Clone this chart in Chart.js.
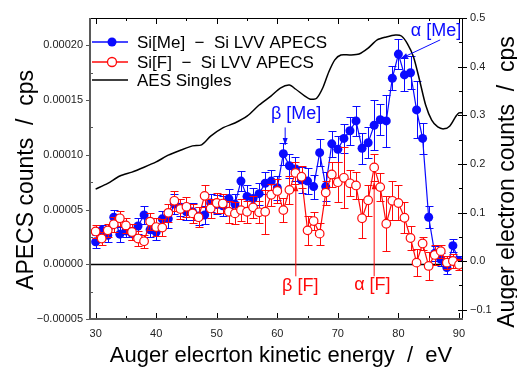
<!DOCTYPE html>
<html>
<head>
<meta charset="utf-8">
<script src="https://cdn.jsdelivr.net/npm/chart.js"></script>
<style>
html, body { margin: 0; padding: 0; background: #fff; }
#wrap { width: 517px; height: 369px; position: relative; }
</style>
</head>
<body>
<div id="wrap"><canvas id="myChart"></canvas></div>
<script>
// energies (eV) des points APECS
const energie = [30, 31, 32, 33, 34, 35, 36, 37, 38, 39, 40, 41, 42, 43, 44, 45, 46, 47, 48, 49,
  50, 51, 52, 53, 54, 55, 56, 57, 58, 59, 60, 61, 62, 63, 64, 65, 66, 67, 68, 69,
  70, 71, 72, 73, 74, 75, 76, 77, 78, 79, 80, 81, 82, 83, 84, 85, 86, 87, 88, 89, 90]

// Si[Me] - Si LVV APECS (cps)
const siMe = [2.05e-5, 3.1e-5, 2.65e-5, 4.3e-5, 2.75e-5, 3.05e-5, 2.8e-5, 3.5e-5, 4.5e-5, 3.15e-5,
  2.95e-5, 4.15e-5, 4.15e-5, 5.5e-5, 5.2e-5, 4.8e-5, 4.8e-5, 4.4e-5, 4.5e-5, 5.6e-5,
  5.45e-5, 5.35e-5, 6.0e-5, 5.5e-5, 7.6e-5, 6.2e-5, 6.0e-5, 6.45e-5, 7.4e-5, 7.6e-5,
  7.0e-5, 10.1e-5, 9.0e-5, 8.7e-5, 7.7e-5, 7.6e-5, 7.1e-5, 10.2e-5, 7.1e-5, 11.0e-5,
  10.5e-5, 11.5e-5, 12.2e-5, 13.1e-5, 10.6e-5, 11.1e-5, 12.7e-5, 13.2e-5, 13.1e-5, 17.0e-5,
  19.2e-5, 17.3e-5, 17.5e-5, 14.1e-5, 11.5e-5, 4.3e-5, 1.0e-5, 0.45e-5, -0.3e-5, 1.7e-5, 0.3e-5]
const siMeErr = [0.6e-5, 0.5e-5, 0.6e-5, 0.7e-5, 0.7e-5, 0.6e-5, 0.6e-5, 0.7e-5, 0.8e-5, 0.7e-5,
  0.7e-5, 0.7e-5, 0.8e-5, 0.9e-5, 0.8e-5, 0.8e-5, 0.8e-5, 0.8e-5, 0.8e-5, 0.8e-5,
  0.9e-5, 0.9e-5, 0.9e-5, 0.9e-5, 0.9e-5, 1.0e-5, 1.0e-5, 1.0e-5, 1.0e-5, 1.0e-5,
  1.1e-5, 1.0e-5, 1.1e-5, 1.1e-5, 1.2e-5, 1.2e-5, 1.1e-5, 1.2e-5, 1.3e-5, 1.2e-5,
  1.2e-5, 1.3e-5, 1.3e-5, 1.4e-5, 1.4e-5, 1.4e-5, 2.3e-5, 1.4e-5, 2.4e-5, 1.1e-5,
  1.4e-5, 1.5e-5, 1.5e-5, 2.6e-5, 1.4e-5, 1.0e-5, 0.7e-5, 0.6e-5, 0.6e-5, 0.6e-5, 0.5e-5]

// Si[F] - Si LVV APECS (cps)
const siF = [3.0e-5, 2.35e-5, 3.1e-5, 3.65e-5, 4.2e-5, 3.55e-5, 2.95e-5, 2.35e-5, 2.1e-5, 3.9e-5,
  3.4e-5, 3.35e-5, 4.7e-5, 5.8e-5, 5.05e-5, 5.25e-5, 4.65e-5, 4.3e-5, 6.25e-5, 5.1e-5,
  5.6e-5, 5.55e-5, 4.8e-5, 4.65e-5, 4.95e-5, 4.8e-5, 5.2e-5, 4.75e-5, 4.8e-5, 6.35e-5,
  6.7e-5, 4.95e-5, 6.8e-5, 8.35e-5, 8.0e-5, 3.1e-5, 3.95e-5, 2.8e-5, 6.55e-5, 8.2e-5,
  7.5e-5, 7.9e-5, 7.4e-5, 7.2e-5, 4.2e-5, 5.85e-5, 8.85e-5, 7.05e-5, 3.7e-5, 5.8e-5,
  5.6e-5, 4.25e-5, 2.4e-5, 0.15e-5, 1.9e-5, -0.15e-5, 0.85e-5, 1.2e-5, 0.15e-5, 0.3e-5, -0.05e-5]
const siFErr = [0.6e-5, 0.6e-5, 0.6e-5, 0.7e-5, 0.7e-5, 0.7e-5, 0.7e-5, 0.7e-5, 0.6e-5, 0.8e-5,
  0.8e-5, 0.8e-5, 0.8e-5, 0.9e-5, 0.9e-5, 0.9e-5, 0.9e-5, 0.9e-5, 1.0e-5, 0.9e-5,
  0.9e-5, 0.9e-5, 1.0e-5, 1.0e-5, 1.0e-5, 1.0e-5, 1.0e-5, 1.0e-5, 2.0e-5, 1.0e-5,
  1.1e-5, 1.1e-5, 1.3e-5, 1.0e-5, 1.0e-5, 1.3e-5, 0.8e-5, 1.0e-5, 1.1e-5, 1.1e-5,
  1.8e-5, 2.8e-5, 1.2e-5, 1.2e-5, 1.8e-5, 1.4e-5, 1.2e-5, 1.3e-5, 2.5e-5, 1.8e-5,
  1.6e-5, 1.4e-5, 1.1e-5, 1.2e-5, 0.6e-5, 1.3e-5, 0.9e-5, 0.6e-5, 0.6e-5, 0.6e-5, 0.5e-5]

// AES Singles (axe de droite)
const aesEnergie = [30, 32, 34, 36, 38, 40, 42, 44, 46, 47.5, 49, 51, 53, 55, 57, 59, 60.5, 62, 63, 64.5,
  65.5, 66.5, 67.5, 68.5, 69.5, 70.5, 72, 73.5, 75, 76.5, 78, 79.5, 80.5, 81.5, 82.5, 83.5,
  84.5, 85.5, 86.5, 87.5, 88.5, 89.5, 90, 90.7]
const aesSingles = [0.148, 0.160, 0.175, 0.183, 0.193, 0.204, 0.218, 0.228, 0.237, 0.239, 0.257, 0.274, 0.284, 0.298,
  0.321, 0.340, 0.356, 0.362, 0.354, 0.340, 0.333, 0.335, 0.356, 0.389, 0.414, 0.424, 0.424, 0.426,
  0.438, 0.455, 0.461, 0.465, 0.463, 0.447, 0.420, 0.372, 0.321, 0.290, 0.276, 0.272, 0.278, 0.298, 0.305, 0.305]

const xTicks = [30, 40, 50, 60, 70, 80, 90]
const yTicks = [-0.00005, 0, 0.00005, 0.0001, 0.00015, 0.0002]
const y2Ticks = [-0.1, 0, 0.1, 0.2, 0.3, 0.4, 0.5]

const BLEU = '#0a0aff'
const ROUGE = '#ff0a0a'
const POLICE = "'Liberation Sans', 'Noto Sans CJK JP', Arial, sans-serif"

Chart.defaults.font.family = POLICE

const pts = (xs, ys) => xs.map((x, i) => ({ x: x, y: ys[i] }))

const data = {
  datasets: [{
    label: 'Si[F] - Si LVV APECS',
    data: pts(energie, siF),
    errors: siFErr,
    yAxisID: 'y',
    showLine: true,
    borderColor: ROUGE,
    borderWidth: 1.2,
    pointRadius: 4.3,
    pointBorderWidth: 1.2,
    pointBackgroundColor: '#fff',
    pointBorderColor: ROUGE,
    order: 1
  }, {
    label: 'Si[Me] - Si LVV APECS',
    data: pts(energie, siMe),
    errors: siMeErr,
    yAxisID: 'y',
    showLine: true,
    borderColor: BLEU,
    borderWidth: 1.2,
    pointRadius: 4.5,
    pointBorderWidth: 0,
    pointBackgroundColor: BLEU,
    order: 2
  }, {
    label: 'AES Singles',
    data: pts(aesEnergie, aesSingles),
    yAxisID: 'y2',
    showLine: true,
    borderColor: '#000',
    borderWidth: 1.5,
    pointRadius: 0,
    tension: 0.25,
    order: 0
  }]
}

// barres d'erreur
const barresErreur = {
  id: 'barresErreur',
  beforeDatasetDraw(chart, args) {
    const ds = chart.data.datasets[args.index]
    if (!ds.errors) return
    const ctx = chart.ctx
    const sx = chart.scales.x, sy = chart.scales.y
    const a = chart.chartArea
    ctx.save()
    ctx.beginPath()
    ctx.rect(a.left, a.top, a.right - a.left, a.bottom - a.top)
    ctx.clip()
    ctx.beginPath()
    ctx.strokeStyle = ds.borderColor
    ctx.lineWidth = 1
    ds.data.forEach((p, i) => {
      const px = Math.round(sx.getPixelForValue(p.x)) + 0.5
      const haut = Math.round(sy.getPixelForValue(p.y + ds.errors[i])) + 0.5
      const bas = Math.round(sy.getPixelForValue(p.y - ds.errors[i])) + 0.5
      ctx.moveTo(px, haut); ctx.lineTo(px, bas)
      ctx.moveTo(px - 4, haut); ctx.lineTo(px + 4, haut)
      ctx.moveTo(px - 4, bas); ctx.lineTo(px + 4, bas)
    })
    ctx.stroke()
    ctx.restore()
  }
}

function fleche(ctx, x1, y1, x2, y2, couleur) {
  const ang = Math.atan2(y2 - y1, x2 - x1)
  ctx.strokeStyle = couleur
  ctx.fillStyle = couleur
  ctx.lineWidth = 1
  ctx.beginPath()
  ctx.moveTo(x1, y1)
  ctx.lineTo(x2, y2)
  ctx.stroke()
  ctx.beginPath()
  ctx.moveTo(x2, y2)
  ctx.lineTo(x2 - 7 * Math.cos(ang) + 2.5 * Math.sin(ang), y2 - 7 * Math.sin(ang) - 2.5 * Math.cos(ang))
  ctx.lineTo(x2 - 7 * Math.cos(ang) - 2.5 * Math.sin(ang), y2 - 7 * Math.sin(ang) + 2.5 * Math.cos(ang))
  ctx.closePath()
  ctx.fill()
}

// cadre, ligne zéro, graduations
const cadre = {
  id: 'cadre',
  beforeDatasetsDraw(chart) {
    const ctx = chart.ctx, a = chart.chartArea
    const y0 = Math.round(chart.scales.y.getPixelForValue(0)) + 0.5
    ctx.save()
    ctx.strokeStyle = '#000'
    ctx.lineWidth = 1.5
    ctx.beginPath()
    ctx.moveTo(a.left, y0); ctx.lineTo(a.right, y0)
    ctx.stroke()
    ctx.restore()
  },
  afterDatasetsDraw(chart) {
    const ctx = chart.ctx, a = chart.chartArea
    const sx = chart.scales.x, sy = chart.scales.y, sy2 = chart.scales.y2
    ctx.save()
    ctx.lineWidth = 1
    ctx.strokeStyle = '#000'
    ctx.beginPath()
    ctx.moveTo(a.left, a.top + 0.5); ctx.lineTo(a.right, a.top + 0.5)
    ctx.moveTo(a.right - 0.5, a.top); ctx.lineTo(a.right - 0.5, a.bottom)
    // x: graduations vers l'intérieur, en bas et en haut
    for (let v = 30; v <= 90; v += 5) {
      const px = Math.round(sx.getPixelForValue(v)) + 0.5
      const l = v % 10 === 0 ? 6 : 3
      ctx.moveTo(px, a.bottom); ctx.lineTo(px, a.bottom - l)
      ctx.moveTo(px, a.top); ctx.lineTo(px, a.top + l)
    }
    // axe de droite
    for (let v = -0.1; v <= 0.5001; v += 0.05) {
      const py = Math.round(sy2.getPixelForValue(v)) + 0.5
      const maj = Math.abs(Math.round(v * 10) - v * 10) < 1e-6
      ctx.moveTo(a.right - (maj ? 5 : 4), py); ctx.lineTo(a.right + (maj ? 4 : 0), py)
    }
    ctx.stroke()
    // axe de gauche
    ctx.strokeStyle = '#555'
    ctx.beginPath()
    for (let k = -2; k <= 8; k++) {
      const v = k * 0.000025
      const py = Math.round(sy.getPixelForValue(v)) + 0.5
      if (k % 2 === 0) { ctx.moveTo(a.left - 4, py); ctx.lineTo(a.left, py) }
      else { ctx.moveTo(a.left, py); ctx.lineTo(a.left + 3, py) }
    }
    ctx.stroke()
    ctx.lineWidth = 2
    ctx.strokeStyle = '#5a5a5a'
    ctx.beginPath()
    ctx.moveTo(a.left, a.top); ctx.lineTo(a.left, a.bottom + 1)
    ctx.moveTo(a.left, a.bottom); ctx.lineTo(a.right, a.bottom)
    ctx.stroke()
    ctx.restore()
  },
  afterDraw(chart) {
    const ctx = chart.ctx, a = chart.chartArea
    const sx = chart.scales.x, sy = chart.scales.y
    const X = v => sx.getPixelForValue(v)
    const Y = v => sy.getPixelForValue(v)
    ctx.save()

    // légende
    const lignes = [
      { y: a.top + 24, c: BLEU, plein: true, t: 'Si[Me]  −  Si LVV APECS' },
      { y: a.top + 44, c: ROUGE, plein: false, t: 'Si[F]  −  Si LVV APECS' },
      { y: a.top + 62, c: '#000', plein: null, t: 'AES Singles' }
    ]
    ctx.font = '17px ' + POLICE
    ctx.textBaseline = 'middle'
    ctx.textAlign = 'left'
    lignes.forEach(l => {
      ctx.strokeStyle = l.c
      ctx.lineWidth = 1.3
      ctx.beginPath()
      ctx.moveTo(a.left + 2, l.y); ctx.lineTo(a.left + 38, l.y)
      ctx.stroke()
      if (l.plein !== null) {
        ctx.beginPath()
        ctx.arc(a.left + 22, l.y, 4.5, 0, Math.PI * 2)
        ctx.fillStyle = l.plein ? l.c : '#fff'
        ctx.fill()
        if (!l.plein) ctx.stroke()
      }
      ctx.fillStyle = '#000'
      ctx.fillText(l.t, a.left + 47, l.y + 1)
    })

    // annotations
    ctx.font = '18px ' + POLICE
    ctx.textAlign = 'center'
    ctx.fillStyle = BLEU
    ctx.fillText('α [Me]', X(86.2), Y(2.13e-4))
    fleche(ctx, X(86.9), Y(2.05e-4), X(80.4), Y(1.88e-4), BLEU)
    ctx.fillStyle = BLEU
    ctx.fillText('β [Me]', X(63.1), Y(1.37e-4))
    fleche(ctx, X(61.3), Y(1.25e-4), X(61.3), Y(1.09e-4), BLEU)
    ctx.fillStyle = ROUGE
    ctx.fillText('β [F]', X(63.8), Y(-2.0e-5))
    fleche(ctx, X(63.06), Y(-1.1e-5), X(63.06), Y(7.3e-5), ROUGE)
    ctx.fillStyle = ROUGE
    ctx.fillText('α [F]', X(75.7), Y(-1.9e-5))
    fleche(ctx, X(76.0), Y(-1.1e-5), X(76.0), Y(7.5e-5), ROUGE)

    // titres des axes
    ctx.fillStyle = '#000'
    ctx.textAlign = 'center'
    ctx.font = '23px ' + POLICE
    ctx.save()
    ctx.translate(27, 180)
    ctx.rotate(-Math.PI / 2)
    ctx.fillText('APECS counts  /  cps', 0, 0)
    ctx.restore()
    ctx.save()
    ctx.translate(508, 182)
    ctx.rotate(-Math.PI / 2)
    ctx.fillText('Auger electron counts  /  cps', 0, 0)
    ctx.restore()
    ctx.font = '22px ' + POLICE
    ctx.fillText('Auger elecrton kinetic energy  /  eV', 281, 356)
    ctx.restore()
  }
}

const config = {
  type: 'scatter',
  data: data,
  options: {
    responsive: true,
    maintainAspectRatio: false,
    animation: false,
    layout: { padding: { top: 18, left: 0, right: 0, bottom: 0 } },
    plugins: { legend: { display: false }, tooltip: { enabled: false } },
    scales: {
      x: {
        type: 'linear',
        min: 29.07,
        max: 90.67,
        afterFit: (s) => { s.height = 50 },
        afterBuildTicks: (s) => { s.ticks = xTicks.map(v => ({ value: v })) },
        grid: { display: false, drawTicks: false },
        border: { display: false },
        ticks: { padding: 8, color: '#222', font: { size: 11 }, maxRotation: 0, autoSkip: false }
      },
      y: {
        position: 'left',
        min: -0.00005,
        max: 0.000225,
        afterFit: (s) => { s.width = 90 },
        afterBuildTicks: (s) => { s.ticks = yTicks.map(v => ({ value: v })) },
        grid: { display: false, drawTicks: false },
        border: { display: false },
        ticks: {
          padding: 7, color: '#222', font: { size: 11 },
          callback: (v) => v.toFixed(5).replace('-', '−')
        }
      },
      y2: {
        position: 'right',
        min: -0.119,
        max: 0.5,
        afterFit: (s) => { s.width = 54 },
        afterBuildTicks: (s) => { s.ticks = y2Ticks.map(v => ({ value: v })) },
        grid: { display: false, drawTicks: false },
        border: { display: false },
        ticks: {
          padding: 7, color: '#222', font: { size: 11 },
          callback: (v) => v.toFixed(1).replace('-', '−')
        }
      }
    }
  },
  plugins: [barresErreur, cadre]
}

const ctx = document.getElementById('myChart')
new Chart(ctx, config)
</script>
</body>
</html>
